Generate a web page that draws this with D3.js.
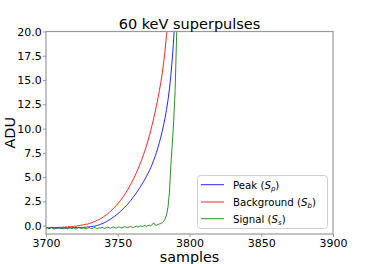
<!DOCTYPE html>
<html>
<head>
<meta charset="utf-8">
<script src="https://cdn.jsdelivr.net/npm/d3@7"></script>
<style>
  html, body { margin: 0; padding: 0; background: #fff; }
  svg { display: block; font-family: "DejaVu Sans", sans-serif; }
</style>
</head>
<body>
<svg id="chart" width="370" height="264"></svg>
<script>
// waveforms start at this sample, one value per sample after it
const startSample = 3700;

const peakValues = [
  -0.25, -0.22, -0.27, -0.24, -0.20, -0.26, -0.23, -0.28, -0.21, -0.25,
  -0.24, -0.27, -0.22, -0.26, -0.20, -0.25, -0.23, -0.19, -0.24, -0.21,
  -0.22, -0.18, -0.23, -0.19, -0.21, -0.16, -0.20, -0.15, -0.17, -0.12,
  -0.14, -0.09, -0.10, -0.05, -0.06, 0.00, 0.04, 0.08, 0.14, 0.20,
  0.25, 0.33, 0.40, 0.50, 0.58, 0.68, 0.78, 0.88, 0.98, 1.10,
  1.22, 1.35, 1.48, 1.62, 1.78, 1.92, 2.05, 2.22, 2.40, 2.58,
  2.78, 2.98, 3.18, 3.38, 3.60, 3.82, 4.05, 4.30, 4.55, 4.80,
  5.08, 5.36, 5.66, 5.98, 6.33, 6.71, 7.12, 7.56, 8.04, 8.56,
  9.12, 9.72, 10.38, 11.12, 11.96, 12.92, 14.07, 15.47, 17.17, 19.27,
  21.8, 24.6, 27.8, 31.2
];

const backgroundValues = [
  -0.22, -0.20, -0.24, -0.18, -0.21, -0.19, -0.23, -0.17, -0.20, -0.18,
  -0.16, -0.19, -0.14, -0.17, -0.12, -0.15, -0.10, -0.12, -0.08, -0.10,
  -0.05, -0.07, 0.00, -0.02, 0.05, 0.04, 0.10, 0.12, 0.16, 0.15,
  0.22, 0.28, 0.30, 0.38, 0.42, 0.50, 0.58, 0.62, 0.72, 0.80,
  0.90, 1.00, 1.08, 1.22, 1.35, 1.50, 1.62, 1.78, 1.92, 2.08,
  2.25, 2.42, 2.62, 2.80, 3.02, 3.24, 3.48, 3.72, 3.98, 4.25,
  4.52, 4.82, 5.12, 5.45, 5.80, 6.15, 6.52, 6.90, 7.32, 7.76,
  8.22, 8.72, 9.24, 9.80, 10.40, 11.02, 11.68, 12.38, 13.12, 13.90,
  14.75, 15.65, 16.80, 18.10, 19.60, 21.30, 23.20, 25.30, 27.60, 30.00,
  32.6, 35.3, 38.2, 41.2
];

const signalValues = [
  -0.28, -0.20, -0.32, -0.25, -0.18, -0.30, -0.35, -0.22, -0.27, -0.19,
  -0.31, -0.24, -0.36, -0.21, -0.28, -0.33, -0.20, -0.26, -0.30, -0.23,
  -0.29, -0.35, -0.24, -0.19, -0.27, -0.32, -0.22, -0.28, -0.34, -0.25,
  -0.20, -0.27, -0.31, -0.23, -0.18, -0.26, -0.30, -0.21, -0.25, -0.16,
  -0.24, -0.29, -0.20, -0.15, -0.22, -0.27, -0.18, -0.13, -0.21, -0.25,
  -0.17, -0.12, -0.20, -0.24, -0.15, -0.10, -0.18, -0.22, -0.13, -0.08,
  -0.16, -0.20, -0.11, -0.06, -0.14, -0.09, -0.02, -0.10, -0.05, 0.02,
  -0.06, 0.00, 0.05, -0.02, 0.10, 0.30, 0.08, 0.04, 0.12, 0.18,
  0.22, 0.30, 0.45, 0.70, 1.10, 1.90, 3.40, 6.20, 8.40, 10.80,
  14.0, 19.5, 25.0, 30.0
];

const xTicks = [3700, 3750, 3800, 3850, 3900];
const yTicks = [0, 2.5, 5, 7.5, 10, 12.5, 15, 17.5, 20];

// legend order: label, subscript, colour, values
const seriesNames = ["Peak", "Background", "Signal"];
const seriesSubs = ["p", "b", "s"];
const seriesColors = ["#0000ff", "#ff0000", "#008000"];
const seriesValues = [peakValues, backgroundValues, signalValues];

const svg = d3.select("#chart");

const plot = {left: 46, right: 333, top: 31.5, bottom: 234};

const x = d3.scaleLinear().domain([3700, 3900]).range([plot.left, plot.right]);
const y = d3.scaleLinear().domain([-0.86, 20]).range([plot.bottom, plot.top]);

svg.append("clipPath").attr("id", "clip")
  .append("rect")
  .attr("x", plot.left).attr("y", plot.top)
  .attr("width", plot.right - plot.left).attr("height", plot.bottom - plot.top);

const line = d3.line()
  .x((d, i) => x(startSample + i))
  .y(d => y(d));

// draw in the same order as the legend (signal ends on top)
const lines = svg.append("g").attr("clip-path", "url(#clip)");
seriesValues.forEach((values, k) => {
  lines.append("path")
    .datum(values)
    .attr("d", line)
    .attr("fill", "none")
    .attr("stroke", seriesColors[k])
    .attr("stroke-width", 1)
    .attr("stroke-opacity", 0.85);
});

// frame
svg.append("rect")
  .attr("x", plot.left).attr("y", plot.top)
  .attr("width", plot.right - plot.left).attr("height", plot.bottom - plot.top)
  .attr("fill", "none")
  .attr("stroke", "#999")
  .attr("stroke-width", 1.2);

const xAxis = svg.append("g")
  .attr("transform", "translate(0," + plot.bottom + ")")
  .call(d3.axisBottom(x).tickValues(xTicks).tickSize(3).tickPadding(1.8).tickFormat(d3.format("d")));

const yAxis = svg.append("g")
  .attr("transform", "translate(" + plot.left + ",0)")
  .call(d3.axisLeft(y).tickValues(yTicks).tickSize(3).tickPadding(1.2).tickFormat(d3.format(".1f")));

[xAxis, yAxis].forEach(axis => {
  axis.select(".domain").remove();
  axis.selectAll(".tick line").attr("stroke", "#999");
  axis.selectAll(".tick text")
    .attr("fill", "#000")
    .style("font-size", "11px")
    .style("font-family", "DejaVu Sans, sans-serif");
});

svg.append("text")
  .attr("x", (plot.left + plot.right) / 2)
  .attr("y", 29)
  .attr("text-anchor", "middle")
  .style("font-size", "14.5px")
  .text("60 keV superpulses");

svg.append("text")
  .attr("x", (plot.left + plot.right) / 2)
  .attr("y", 261.5)
  .attr("text-anchor", "middle")
  .style("font-size", "14.3px")
  .text("samples");

svg.append("text")
  .attr("transform", "translate(15," + (plot.top + plot.bottom) / 2 + ") rotate(-90)")
  .attr("text-anchor", "middle")
  .style("font-size", "14.5px")
  .text("ADU");

// legend box
const legend = svg.append("g");
legend.append("rect")
  .attr("x", 197.5).attr("y", 175.5)
  .attr("width", 130).attr("height", 53)
  .attr("rx", 3)
  .attr("fill", "#fff")
  .attr("fill-opacity", 0.8)
  .attr("stroke", "#d0d0d0")
  .attr("stroke-width", 1);

const rowY = [184.7, 202, 218.7];
seriesNames.forEach((name, k) => {
  legend.append("line")
    .attr("x1", 201).attr("x2", 224)
    .attr("y1", rowY[k]).attr("y2", rowY[k])
    .attr("stroke", seriesColors[k])
    .attr("stroke-opacity", 0.85)
    .attr("stroke-width", 1);

  const label = legend.append("text")
    .attr("x", 233)
    .attr("y", rowY[k] + 4)
    .style("font-size", "10.2px");
  label.append("tspan").text(name + " (");
  label.append("tspan").attr("font-style", "italic").text("S");
  label.append("tspan").attr("font-style", "italic").attr("font-size", "7px").attr("dy", 2).text(seriesSubs[k]);
  label.append("tspan").attr("dy", -2).text(")");
});
</script>
</body>
</html>
